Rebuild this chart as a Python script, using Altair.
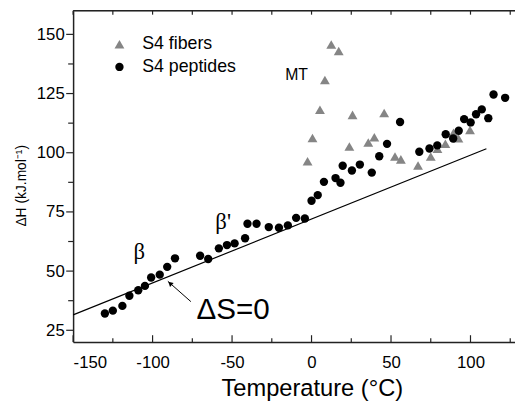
import altair as alt
import pandas as pd

# ---- data ----
pep_t = [-130, -125, -119, -114.6, -109, -104.8, -100.9, -95.5, -90.8, -85.9,
         -70.1, -65, -58.3, -53.2, -48.4, -41.8, -40.3, -34.6, -26.9, -20.5,
         -14.9, -9.7, -4.2, 0, 3.9, 7.8, 15.1, 18.2, 19.6, 25.4, 30.4, 37.9,
         42.6, 47.5, 55.7, 67.8, 74.2, 79.1, 84.4, 89.1, 92.6, 96.0, 100.1,
         103.5, 107.1, 111.2, 114.5, 121.8]
pep_h = [32.1, 33.3, 35.3, 39.6, 41.9, 43.75, 47.3, 48.5, 51.8, 55.4,
         56.5, 55.1, 59.6, 61, 61.7, 63.9, 70, 70, 68.6, 68.3,
         69.3, 72.5, 72.2, 79.7, 82.1, 87.7, 89.3, 87.3, 94.5, 92.5, 95, 91.6,
         98.5, 103.75, 113, 100.4, 101.8, 103.1, 107.8, 106, 109.3, 114.2, 112.8,
         116.25, 118.3, 114.6, 124.6, 123.2]
fib_t = [12.4, 17.1, 8.4, 5.3, 25.8, 45.7, 0.6, -2.5, 23.8, 35.7, 39.5,
         52.5, 56.2, 67.0, 75.0, 79.2, 84.2, 89.3, 92.4, 99.7]
fib_h = [145.7, 143, 130.7, 118.2, 116, 116.8, 106.25, 96.4, 102.6, 104.3, 106.5,
         98.4, 97.2, 94.6, 98.4, 101.7, 103.8, 108.4, 106.1, 109.6]
series = ["S4 fibers", "S4 peptides"]

line_t = [-150, 110]
line_h = [31.5, 101.7]

arrow_t = [-75.9, -90.4]
arrow_h = [37.1, 45.7]
arrow_head_t = [-89.0]
arrow_head_h = [44.8]

x_major = [-150, -100, -50, 0, 50, 100]
x_minor = [-125, -75, -25, 25, 75, 125]
y_major = [25, 50, 75, 100, 125, 150]
y_minor = [37.5, 62.5, 87.5, 112.5, 137.5]

X_DOMAIN = [-150, 128]
Y_DOMAIN = [20, 160]
W, H = 448, 336

xs = alt.Scale(domain=X_DOMAIN, nice=False, zero=False)
ys = alt.Scale(domain=Y_DOMAIN, nice=False, zero=False)

hyphen_labels = "datum.value < 0 ? '-' + abs(datum.value) : '' + datum.value"

ax_x = alt.Axis(
    values=x_major, ticks=False, grid=False, labelFontSize=17, labelPadding=13,
    labelColor="black", domainColor="#222", domainWidth=1.5, labelExpr=hyphen_labels,
    title="Temperature (°C)", titleFontSize=24, titleFontWeight="normal",
    titleColor="black", titleX=242, titleY=54, titleBaseline="alphabetic")
ax_y = alt.Axis(
    values=y_major, ticks=False, grid=False, labelFontSize=17, labelPadding=9,
    labelColor="black", domainColor="#222", domainWidth=1.5,
    title="ΔH (kJ.mol⁻¹)", titleFontSize=14, titleFontWeight="normal",
    titleColor="black", titleAngle=270, titleAlign="center", titleBaseline="middle",
    titleX=-52, titleY=177)


def X(field="T"):
    return alt.X(f"{field}:Q", scale=xs, axis=ax_x)


def Y(field="dH"):
    return alt.Y(f"{field}:Q", scale=ys, axis=ax_y)


pts = pd.DataFrame({
    "T": fib_t + pep_t,
    "dH": fib_h + pep_h,
    "series": [series[0]] * len(fib_t) + [series[1]] * len(pep_t),
})

points = alt.Chart(pts).mark_point(filled=True, opacity=1, strokeWidth=0).encode(
    x=X(), y=Y(),
    color=alt.Color("series:N", scale=alt.Scale(domain=series, range=["#858585", "#000000"]),
                    legend=alt.Legend(orient="none", legendX=38, legendY=25, title=None,
                                      labelFontSize=18, labelColor="black", labelOffset=14,
                                      symbolSize=90, symbolStrokeWidth=0, rowPadding=5,
                                      padding=0)),
    shape=alt.Shape("series:N", scale=alt.Scale(domain=series, range=["triangle-up", "circle"])),
    size=alt.Size("series:N", scale=alt.Scale(domain=series, range=[100, 72]), legend=None),
)

ds0 = alt.Chart(pd.DataFrame({"T": line_t, "dH": line_h})).mark_line(
    color="black", strokeWidth=1.2).encode(x=X(), y=Y())

arrow = alt.Chart(pd.DataFrame({"T": arrow_t, "dH": arrow_h})).mark_line(
    color="black", strokeWidth=1).encode(x=X(), y=Y())

arrow_head = alt.Chart(pd.DataFrame({"T": arrow_head_t, "dH": arrow_head_h})).mark_point(
    shape="triangle-up", filled=True, color="black", opacity=1, size=30, angle=311.5,
    strokeWidth=0).encode(x=X(), y=Y())

# text annotations
greek = pd.DataFrame({"T": [-108.4, -55.6], "dH": [58.0, 70.8], "label": ["β", "β'"]})
greek_txt = alt.Chart(greek).mark_text(font="Liberation Serif", fontSize=23, color="black",
                                       baseline="middle", align="center").encode(
    x=X(), y=Y(), text="label:N")

mt_txt = alt.Chart(pd.DataFrame({"T": [-9.4], "dH": [132.6], "label": ["MT"]})).mark_text(
    font="Liberation Sans", fontSize=16, color="black", baseline="middle", align="center").encode(
    x=X(), y=Y(), text="label:N")

ds_txt = alt.Chart(pd.DataFrame({"T": [-72.4], "dH": [29.9], "label": ["ΔS=0"]})).mark_text(
    font="Liberation Sans", fontSize=30, color="black", baseline="alphabetic", align="left").encode(
    x=X(), y=Y(), text="label:N")


# tick marks drawn as rules
def xticks(vals, y0, y1):
    return alt.Chart(pd.DataFrame({"T": vals})).mark_rule(color="#222", strokeWidth=1.2).encode(
        x=X(), y=alt.value(y0), y2=alt.value(y1))


def yticks(vals, x0, x1):
    return alt.Chart(pd.DataFrame({"dH": vals})).mark_rule(color="#222", strokeWidth=1.2).encode(
        y=Y(), x=alt.value(x0), x2=alt.value(x1))


top_line = alt.Chart(pd.DataFrame({"v": [0]})).mark_rule(color="#222", strokeWidth=1.5).encode(
    x=alt.value(0), x2=alt.value(W), y=alt.value(0))

layers = [
    points, ds0, arrow, arrow_head, greek_txt, mt_txt, ds_txt, top_line,
    xticks(x_major, H, H - 7), xticks(x_minor, H, H - 4),
    xticks(x_major, 0, 4), xticks(x_minor, 0, 4),
    yticks(y_major, 0, -7), yticks(y_minor, 0, -5),
]

chart = alt.layer(*layers).properties(
    width=W, height=H,
    autosize=alt.AutoSizeParams(type="none"),
    padding={"left": 66, "top": 0, "right": 0, "bottom": 60},
).configure_view(strokeWidth=0).configure(font="Liberation Sans")

chart.save("out.html", embed_options={"renderer": "svg", "actions": False})
